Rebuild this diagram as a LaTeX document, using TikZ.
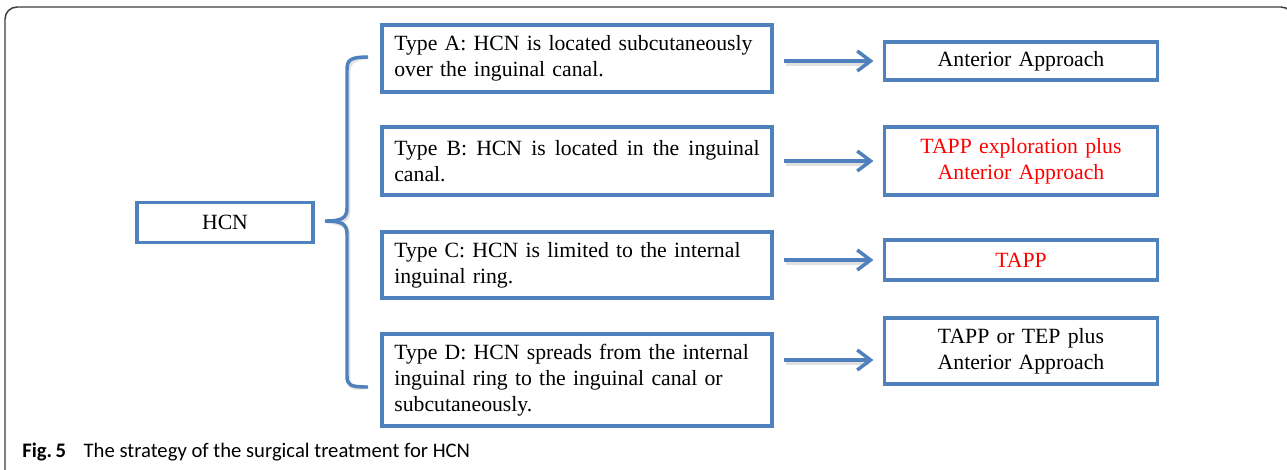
\documentclass[tikz,border=0pt]{standalone}
\usepackage{fontspec}
\setmainfont{Liberation Serif}
\newfontfamily\capfont{Carlito}
\usetikzlibrary{arrows.meta}
\definecolor{boxblue}{RGB}{79,129,189}
\definecolor{framegray}{RGB}{60,60,60}
\definecolor{shadowgray}{RGB}{120,120,120}
\tikzset{
  box/.style={draw=boxblue, line width=2.6pt, fill=white, inner sep=0pt,
    font=\fontsize{16.3}{19.6}\selectfont},
  typebox/.style={box, minimum width=292.5pt, text width=274pt, align=left},
  resbox/.style={box, minimum width=204.75pt, text width=195pt, align=center},
  arr/.style={draw=boxblue, line width=2.6pt,
    -{Straight Barb[length=10pt, width=15pt, line width=2.6pt]}},
  shadowline/.style={draw=shadowgray, line width=2.8pt, opacity=0.22},
  bracestyle/.style={draw=boxblue, line width=2.6pt},
  highlight/.style={text=red}
}
\begin{document}
\begin{tikzpicture}[x=0.75pt, y=-0.75pt]
  \useasboundingbox (0,0) rectangle (1287,469);

  % outer frame, open beyond the right and lower edges
  \begin{scope}
    \clip (0,0) rectangle (1287,469);
    \draw[framegray, line width=1.1pt, rounded corners=9pt] (5,7) rectangle (1293,482);
  \end{scope}

  % root
  \node[box, minimum width=132pt, minimum height=30pt] (hcn) at (225,222.5) {HCN};

  % classification
  \node[typebox, minimum height=50pt] (ta) at (577,58.5)
    {Type A: HCN is located subcutaneously\\over the inguinal canal.};
  \node[typebox, minimum height=51pt, align=justify] (tb) at (577,161)
    {Type B: HCN is located in the inguinal canal.};
  \node[typebox, minimum height=49.5pt] (tc) at (577,265)
    {Type C: HCN is limited to the internal\\inguinal ring.};
  \node[typebox, minimum height=69pt] (td) at (577,380)
    {Type D: HCN spreads from the internal\\inguinal ring to the inguinal canal or\\subcutaneously.};

  % treatment
  \node[resbox, minimum height=28.5pt] (ra) at (1021,61) {Anterior Approach};
  \node[resbox, minimum height=51pt, highlight] (rb) at (1021,161)
    {TAPP exploration plus\\Anterior Approach};
  \node[resbox, minimum height=30pt, highlight] (rc) at (1021,260) {TAPP};
  \node[resbox, minimum height=49.5pt] (rd) at (1021,351)
    {TAPP or TEP plus\\Anterior Approach};

  % brace grouping the four types
  \coordinate (bt) at (368,57);
  \coordinate (bm) at (325,221);
  \coordinate (bb) at (368,387);
  \begin{scope}[shift={(1.5,2.5)}]
    \draw[shadowline] (bt) .. controls (350,57) and (347,60) .. (347,70)
      -- (347,208) .. controls (347,218) and (342,221) .. (bm)
      .. controls (342,221) and (347,224) .. (347,234)
      -- (347,376) .. controls (347,385) and (350,387) .. (bb);
  \end{scope}
  \draw[bracestyle] (bt) .. controls (350,57) and (347,60) .. (347,70)
    -- (347,208) .. controls (347,218) and (342,221) .. (bm)
    .. controls (342,221) and (347,224) .. (347,234)
    -- (347,376) .. controls (347,385) and (350,387) .. (bb);

  % arrows from each type to its treatment
  \foreach \s/\t/\dy in {ta/ra/0, tb/rb/0, tc/rc/0, td/rd/-6.75} {
    \draw[shadowline, shorten >=3pt]
      ([xshift=9pt, yshift=\dy pt-2pt]\s.east |- \t.west) -- ([xshift=-7pt, yshift=\dy pt-2pt]\t.west);
    \draw[arr] ([xshift=8pt, yshift=\dy pt]\s.east |- \t.west) -- ([xshift=-7pt, yshift=\dy pt]\t.west);
  }

  % caption
  \node[anchor=base west, inner sep=0pt, font=\capfont\fontsize{15.5}{18}\selectfont] (cap) at (22,457)
    {\textbf{Fig.\,5}\hspace{0.85em}The strategy of the surgical treatment for HCN};
\end{tikzpicture}
\end{document}
